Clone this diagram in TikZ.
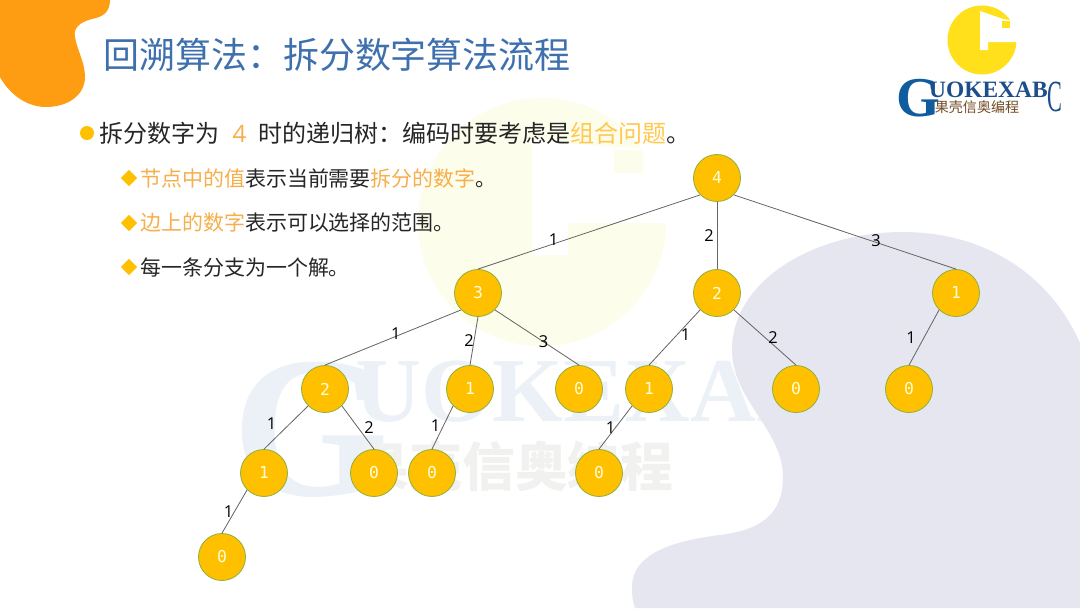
\documentclass[tikz,border=0pt]{standalone}
\usepackage{fontspec}
\setmainfont{Noto Sans CJK SC}
\newfontfamily\numfont{Open Sans}
\newfontfamily\codefont{DejaVu Sans Mono}
\newfontfamily\logofont{Liberation Serif}
\definecolor{gkorange}{HTML}{FF9D12}
\definecolor{gkhigh}{HTML}{F7AE4B}
\definecolor{gkyellow}{HTML}{FFC94F}
\definecolor{gkblue}{HTML}{3F70AE}
\definecolor{gkblob}{HTML}{E6E6F0}
\definecolor{gkwater}{HTML}{FDFDEC}
\definecolor{gkwaterblue}{HTML}{EBF1F7}
\definecolor{gkwatergray}{HTML}{F1F1EF}
\definecolor{gkfill}{HTML}{FFC000}
\definecolor{gkline}{HTML}{8FAF3F}
\definecolor{gktext}{HTML}{262626}
\definecolor{gklogoblue}{HTML}{0F5C9E}
\definecolor{gklogonavy}{HTML}{1D4E8C}
\definecolor{gklogoyellow}{HTML}{FFE01A}
\usetikzlibrary{shapes.geometric}

\begin{document}
\begin{tikzpicture}[x=0.03cm,y=-0.03cm,
  treenode/.style={circle,draw=gkline,line width=0.7pt,fill=gkfill,minimum size=1.41cm,inner sep=0pt,
    text=yellow!15,font=\codefont\fontsize{14}{14}\selectfont},
  treeedge/.style={draw=black!60,line width=0.7pt},
  edgenum/.style={inner sep=0pt,text=black,font=\numfont\fontsize{14}{14}\selectfont},
  leveltwo/.style={anchor=west,inner sep=0pt,text=gktext,font=\fontsize{17.9}{20}\selectfont},
  diamondmark/.style={diamond,fill=gkfill,minimum size=0.5cm,inner sep=0pt}
]
  \useasboundingbox (0,0) rectangle (1080,608);
  \fill[white] (0,0) rectangle (1080,608);

  % Watermark
  \fill[gkwater] (542,222) circle (124);
  \fill[white] (532,255) -- (568,255) -- (568,223) -- (680,223) -- (680,150) -- (600,146) -- (532,140) -- cycle;
  \fill[gkwater] (614,150) rectangle (643,173);
  \node[anchor=base west,inner sep=0pt,text=gkwaterblue,font=\logofont\bfseries\fontsize{172}{172}\selectfont] (wmg) at (232,495) {G};
  \node[anchor=base west,inner sep=0pt,text=gkwaterblue,font=\logofont\bfseries\fontsize{78}{78}\selectfont] (wmname) at (355,421) {UOKEXAB};
  \node[inner sep=0pt,text=gkwatergray,font=\bfseries\fontsize{45}{45}\selectfont] (wmcn) at (515,466) {果壳信奥编程};

  % Corner shapes
  \fill[gkblob] (1080,343) .. controls (1050,275) and (985,232) .. (903,232)
    .. controls (815,232) and (732,280) .. (732,350)
    .. controls (732,400) and (783,430) .. (783,477)
    .. controls (783,515) and (760,530) .. (720,535)
    .. controls (670,541) and (632,555) .. (632,587)
    .. controls (632,597) and (633,603) .. (635,608) -- (1080,608) -- cycle;
  \fill[gkorange] (0,0) -- (110,0) .. controls (110,12) and (103,17) .. (92,19)
    .. controls (80,22) and (73,28) .. (75,37)
    .. controls (77,50) and (85,62) .. (85,77)
    .. controls (85,95) and (68,107) .. (46,107)
    .. controls (25,107) and (8,92) .. (0,77) -- cycle;

  % Logo
  \fill[gklogoyellow] (982,40) circle (34.5);
  \fill[white] (980,50) -- (988,50) -- (988,42) -- (1020,42) -- (1020,22) -- (1003,19) -- (980,11) -- cycle;
  \fill[gklogoyellow] (1002,21) rectangle (1010,28);
  \node[anchor=base west,inner sep=0pt,text=gklogoblue,font=\logofont\bfseries\fontsize{48}{48}\selectfont] (logog) at (896,116) {G};
  \node[anchor=base west,inner sep=0pt,text=gklogonavy,font=\logofont\bfseries\fontsize{20}{20}\selectfont] (logoname) at (929,97) {UOKEXAB};
  \node[anchor=base west,inner sep=0pt,text=gklogonavy,xscale=0.5,font=\logofont\fontsize{38}{38}\selectfont] (logoc) at (1047,111) {C};
  \node[inner sep=0pt,text=brown!60!black,font=\fontsize{12}{12}\selectfont] (logocn) at (977,107) {果壳信奥编程};

  % Title
  \node[anchor=west,inner sep=0pt,text=gkblue,font=\fontsize{30.7}{34}\selectfont] (title) at (103,55) {回溯算法：拆分数字算法流程};

  % Bullets
  \node[circle,fill=gkfill,minimum size=0.42cm,inner sep=0pt] (dot) at (87,133) {};
  \node[anchor=west,inner sep=0pt,text=gktext,font=\fontsize{20.5}{24}\selectfont] (line1) at (99,133) {拆分数字为\hspace{0.55em}{\numfont\color{gkhigh}4}\hspace{0.5em}时的递归树：编码时要考虑是{\color{gkyellow}组合问题}。};
  \node[diamondmark] (d1) at (129,178) {};
  \node[leveltwo] (line2) at (140,178) {{\color{gkhigh}节点中的值}表示当前需要{\color{gkhigh}拆分的数字}。};
  \node[diamondmark] (d2) at (129,223) {};
  \node[leveltwo] (line3) at (140,223) {{\color{gkhigh}边上的数字}表示可以选择的范围。};
  \node[diamondmark] (d3) at (129,267) {};
  \node[leveltwo] (line4) at (140,267) {每一条分支为一个解。};

  % Tree nodes
  \node[treenode] (n4) at (717,178) {4};
  \node[treenode] (n3) at (478,293) {3};
  \node[treenode] (n2) at (717,293) {2};
  \node[treenode] (n1) at (956,293) {1};
  \node[treenode] (n32) at (325,389) {2};
  \node[treenode] (n31) at (470,389) {1};
  \node[treenode] (n30) at (579,389) {0};
  \node[treenode] (n21) at (649,389) {1};
  \node[treenode] (n20) at (796,389) {0};
  \node[treenode] (n10) at (909,389) {0};
  \node[treenode] (n321) at (264,473) {1};
  \node[treenode] (n320) at (374,473) {0};
  \node[treenode] (n310) at (432,473) {0};
  \node[treenode] (n210) at (599,473) {0};
  \node[treenode] (n3210) at (222,557) {0};

  % Tree edges
  \draw[treeedge] (n4.south west) -- node[edgenum,pos=.66,yshift=0.12cm] (e1) {1} (n3.north);
  \draw[treeedge] (n4.south) -- node[edgenum,xshift=-0.24cm] (e2) {2} (n2.north);
  \draw[treeedge] (n4.south east) -- node[edgenum,pos=.64,yshift=0.05cm] (e3) {3} (n1.north);
  \draw[treeedge] (n3.south west) -- node[edgenum,pos=.48,yshift=0.09cm] (e4) {1} (n32.north);
  \draw[treeedge] (n3.south) -- node[edgenum,pos=.5,xshift=-0.15cm] (e5) {2} (n31.north);
  \draw[treeedge] (n3.south east) -- node[edgenum,pos=.58] (e6) {3} (n30.north);
  \draw[treeedge] (n2.south west) -- node[edgenum,xshift=0.33cm,yshift=0.09cm] (e7) {1} (n21.north);
  \draw[treeedge] (n2.south east) -- node[edgenum,xshift=0.24cm] (e8) {2} (n20.north);
  \draw[treeedge] (n1.south west) -- node[edgenum,xshift=-0.39cm] (e9) {1} (n10.north);
  \draw[treeedge] (n32.south west) -- node[edgenum,pos=.4,xshift=-0.57cm] (e10) {1} (n321.north);
  \draw[treeedge] (n32.south east) -- node[edgenum,xshift=0.33cm] (e11) {2} (n320.north);
  \draw[treeedge] (n31.south west) -- node[edgenum,pos=.45,xshift=-0.24cm] (e12) {1} (n310.north);
  \draw[treeedge] (n21.south west) -- node[edgenum,xshift=-0.15cm] (e13) {1} (n210.north);
  \draw[treeedge] (n321.south west) -- node[edgenum,xshift=-0.18cm] (e14) {1} (n3210.north);
\end{tikzpicture}
\end{document}
